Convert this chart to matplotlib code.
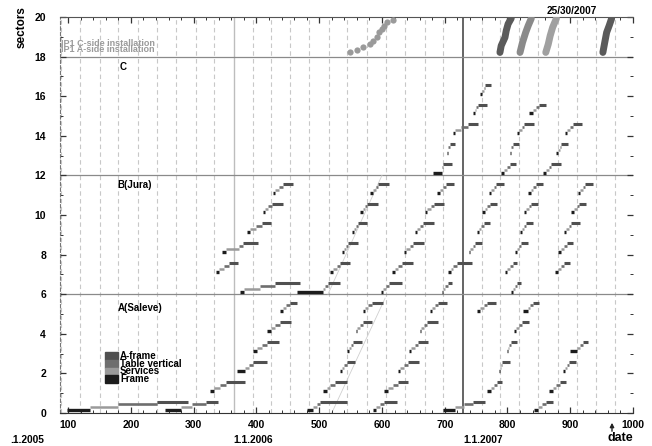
import numpy as np
import matplotlib.pyplot as plt
import matplotlib.patches as mpatches

plt.rcParams['font.family'] = ['Liberation Sans', 'DejaVu Sans']
plt.rcParams['font.weight'] = 'bold'

# installation tasks, one row per sector (day numbers since 1.1.2005)
# columns: sector, frame start, services start, table start, a-frame start, a-frame end
row_sector = [0, 0, 1, 2, 3, 4, 5,                # A wave 1
              0, 1, 2, 3, 4, 5,                   # A wave 2
              0, 1, 2, 3, 4, 5,                   # A wave 3
              0, 1, 2, 3, 4, 5, 5,                # A wave 4
              0, 1, 2, 3,                         # A wave 5
              6, 7, 8, 9, 10, 11,                 # B wave 1
              6, 7, 8, 9, 10, 11,                 # B wave 2
              6, 7, 8, 9, 10, 11,                 # B wave 3
              6, 7, 8, 9, 10, 11,                 # B wave 4
              6, 7, 8, 9, 10, 11,                 # B wave 5
              7, 8, 9, 10, 11,                    # B wave 6
              12, 13, 14, 15, 16,                 # C wave 1
              12, 13, 14, 15,                     # C wave 2
              12, 13, 14]                         # C wave 3
frame_start = [98, 254, 326, 369, 394, 417, 437,
               480, 506, 533, 544, 558, 569,
               585, 604, 625, 643, 660, 676,
               697, 768, 786, 799, 810, 751, 824,
               843, 866, 888, 899,
               374, 335, 345, 385, 410, 426,
               464, 517, 536, 553, 565, 581,
               598, 616, 635, 652, 668, 688,
               695, 705, 738, 752, 760, 770,
               806, 796, 812, 820, 826, 833,
               875, 880, 890, 902, 912,
               681, 703, 713, 745, 757,
               789, 804, 815, 834,
               856, 878, 891]
services_start = [135, 280, 333, 382, 401, 423, 442,
                  490, 513, 537, 547, 561, 573,
                  590, 609, 629, 647, 663, 680,
                  716, 773, 788, 801, 814, 756, 832,
                  848, 872, 891, 910,
                  380, 340, 352, 390, 414, 430,
                  506, 522, 539, 556, 569, 585,
                  602, 620, 639, 656, 672, 692,
                  698, 710, 741, 755, 764, 774,
                  809, 800, 815, 823, 830, 837,
                  880, 885, 894, 906, 916,
                  695, 705, 716, 748, 760,
                  795, 805, 819, 840,
                  861, 880, 895]
table_start = [179, 298, 342, 388, 409, 430, 447,
               496, 518, 540, 551, 565, 578,
               597, 617, 635, 652, 667, 685,
               731, 778, 790, 803, 818, 762, 836,
               855, 877, 895, 915,
               405, 348, 372, 400, 419, 436,
               510, 528, 543, 559, 573, 590,
               607, 626, 644, 661, 678, 697,
               701, 713, 745, 758, 768, 778,
               812, 804, 818, 827, 834, 841,
               885, 890, 898, 910, 920,
               696, 706, 726, 750, 762,
               800, 806, 823, 846,
               866, 883, 900]
aframe_start = [241, 320, 351, 394, 417, 437, 453,
                501, 525, 544, 554, 569, 584,
                604, 625, 641, 657, 671, 689,
                745, 783, 792, 806, 823, 767, 840,
                862, 883, 898, 920,
                430, 356, 378, 409, 425, 442,
                514, 533, 546, 562, 576, 594,
                612, 632, 649, 665, 683, 702,
                705, 720, 748, 762, 772, 782,
                815, 808, 822, 830, 838, 845,
                890, 895, 902, 914, 924,
                698, 708, 737, 753, 764,
                804, 808, 827, 851,
                870, 886, 904]
aframe_end = [291, 339, 382, 417, 436, 455, 464,
              545, 545, 557, 568, 584, 601,
              624, 641, 659, 673, 689, 703,
              764, 792, 804, 815, 834, 781, 851,
              872, 894, 909, 929,
              470, 370, 402, 423, 442, 458,
              533, 549, 562, 576, 594, 612,
              632, 649, 667, 683, 699, 715,
              712, 743, 760, 772, 784, 794,
              822, 815, 832, 840, 848, 856,
              900, 905, 915, 925, 937,
              711, 716, 753, 767, 773,
              813, 818, 842, 862,
              885, 897, 918]

# faint planning lines
plan_a_x = [520, 605]
plan_a_y = [0.0, 5.8]
plan_b_x = [514, 600]
plan_b_y = [6.0, 12.0]

# IP1 installation dots (top band)
ip1_x = [549, 561, 570, 581, 585, 592, 596, 600, 604, 608, 617]
ip1_y = [18.23, 18.33, 18.48, 18.63, 18.78, 18.99, 19.24, 19.39, 19.54, 19.75, 19.85]
inst1_x = [788, 790, 796, 798, 801, 806]
inst1_y = [18.21, 18.55, 18.97, 19.31, 19.65, 19.93]
inst2_x = [820, 824, 829, 833, 838]
inst2_y = [18.21, 18.72, 19.22, 19.56, 19.93]
inst3_x = [861, 865, 868, 872, 878]
inst3_y = [18.21, 18.63, 19.05, 19.48, 19.93]
inst4_x = [952, 955, 958, 962, 966]
inst4_y = [18.21, 18.72, 19.22, 19.56, 19.93]

legend_labels = ['A-frame', 'Table vertical', 'Services', 'Frame']
legend_colors = ['#505050', '#6e6e6e', '#9a9a9a', '#1c1c1c']

fig = plt.figure(figsize=(6.52, 4.46), dpi=100)
ax = fig.add_axes([60 / 652, 1 - 413 / 446, 573 / 652, 396 / 446])
ax.set_xlim(87, 1000)
ax.set_ylim(0, 20)

# month grid
months = np.arange('2005-02', '2008-01', dtype='datetime64[M]')
days = (months.astype('datetime64[D]') - np.datetime64('2005-01-02')).astype(int)
for m, d in zip(months, days):
    if str(m).endswith('-01'):
        continue
    ax.axvline(d, color='#c8c8c8', lw=0.8, ls=(0, (4, 3)), zorder=0)
ax.axvline(364, color='#bdbdbd', lw=1.0, zorder=0)
ax.axvline(729, color='#4a4a4a', lw=1.2, zorder=1)

for yy in [6, 12, 18]:
    ax.axhline(yy, color='#8a8a8a', lw=0.9, zorder=1)

ax.plot(plan_a_x, plan_a_y, color='#cfcfcf', lw=0.6, zorder=1)
ax.plot(plan_b_x, plan_b_y, color='#cfcfcf', lw=0.6, zorder=1)

for k, t0, t1, t2, t3, t4 in zip(row_sector, frame_start, services_start,
                                 table_start, aframe_start, aframe_end):
    ax.plot([t0, t1], [k + 0.13, k + 0.13], color=legend_colors[3], lw=2.4, solid_capstyle='butt', zorder=3)
    ax.plot([t1, t2], [k + 0.28, k + 0.28], color=legend_colors[2], lw=1.8, solid_capstyle='butt', zorder=3)
    ax.plot([t2, t3], [k + 0.43, k + 0.43], color=legend_colors[1], lw=1.9, solid_capstyle='butt', zorder=3)
    ax.plot([t3, t4], [k + 0.58, k + 0.58], color=legend_colors[0], lw=2.2, solid_capstyle='butt', zorder=3)

ax.plot(ip1_x, ip1_y, 'o', color='#9a9a9a', ms=4.5, mec='none', zorder=4)
for xs, ys, c in [(inst1_x, inst1_y, '#5a5a5a'), (inst2_x, inst2_y, '#8a8a8a'),
                  (inst3_x, inst3_y, '#a0a0a0'), (inst4_x, inst4_y, '#5a5a5a')]:
    ax.plot(xs, ys, '-', color=c, lw=5, solid_capstyle='round', zorder=4)

# axes styling
ax.set_xticks(np.arange(100, 1001, 100))
ax.set_xticks(np.arange(100, 1001, 20), minor=True)
ax.set_yticks(np.arange(0, 21, 2))
ax.set_yticks(np.arange(0, 21, 1), minor=True)
ax.tick_params(which='both', direction='in', top=True, right=True, colors='#333333',
               labelsize=7.5, labelcolor='black')
ax.tick_params(which='major', length=4.5, width=0.9)
ax.tick_params(which='minor', length=2.5, width=0.7)
ax.tick_params(axis='x', pad=5)
ax.tick_params(axis='y', pad=10)
for lab in ax.get_xticklabels() + ax.get_yticklabels():
    lab.set_fontweight('bold')
ax.spines['left'].set_linestyle((0, (3, 2)))
ax.spines['left'].set_color('#777777')
ax.spines['right'].set_color('none')
ax.spines['top'].set_color('#555555')
ax.spines['bottom'].set_color('#333333')

# block labels
ax.text(182, 17.45, 'C', fontsize=7, fontweight='bold', ha='left', va='center')
ax.text(179, 11.5, 'B(Jura)', fontsize=7, fontweight='bold', ha='left', va='center')
ax.text(179, 5.3, 'A(Saleve)', fontsize=7, fontweight='bold', ha='left', va='center')

ax.text(0.002, 1 - 44 / 396 + 17 / 396, 'IP1 C-side installation', transform=ax.transAxes,
        fontsize=6.5, fontweight='bold', color='#9a9a9a', ha='left', va='center')
ax.text(0.002, 1 - 50 / 396 + 17 / 396, 'IP1 A-side installation', transform=ax.transAxes,
        fontsize=6.5, fontweight='bold', color='#9a9a9a', ha='left', va='center')

# legend drawn by hand
for i, (lab, c) in enumerate(zip(legend_labels, legend_colors)):
    top = 352 + i * 7.8
    fig.patches.append(mpatches.Rectangle((105 / 652, 1 - (top + 7.8) / 446), 13 / 652, 7.8 / 446,
                                          transform=fig.transFigure, color=c, zorder=5))
    fig.text(120 / 652, 1 - (top + 3.9) / 446, lab, fontsize=7, fontweight='bold',
             ha='left', va='center')

fig.text(22 / 652, 1 - 27 / 446, 'sectors', rotation=90, fontsize=8.5, fontweight='bold',
         ha='center', va='center')
fig.text(572 / 652, 1 - 11 / 446, '25/30/2007', fontsize=7.2, fontweight='bold',
         ha='center', va='center')
fig.text(10 / 652, 1 - 440 / 446, '.1.2005', fontsize=7.4, fontweight='bold', ha='left', va='center')
fig.text(233 / 652, 1 - 440 / 446, '1.1.2006', fontsize=7.4, fontweight='bold', ha='left', va='center')
fig.text(463 / 652, 1 - 440 / 446, '1.1.2007', fontsize=7.4, fontweight='bold', ha='left', va='center')
fig.text(620 / 652, 1 - 438 / 446, 'date', fontsize=9, fontweight='bold', ha='center', va='center')
fig.patches.append(mpatches.FancyArrowPatch((612 / 652, 1 - 434 / 446), (612 / 652, 1 - 420 / 446),
                                            transform=fig.transFigure, arrowstyle='-|>',
                                            mutation_scale=6, color='#222222', lw=1))

fig.savefig('out.png', dpi=100)
